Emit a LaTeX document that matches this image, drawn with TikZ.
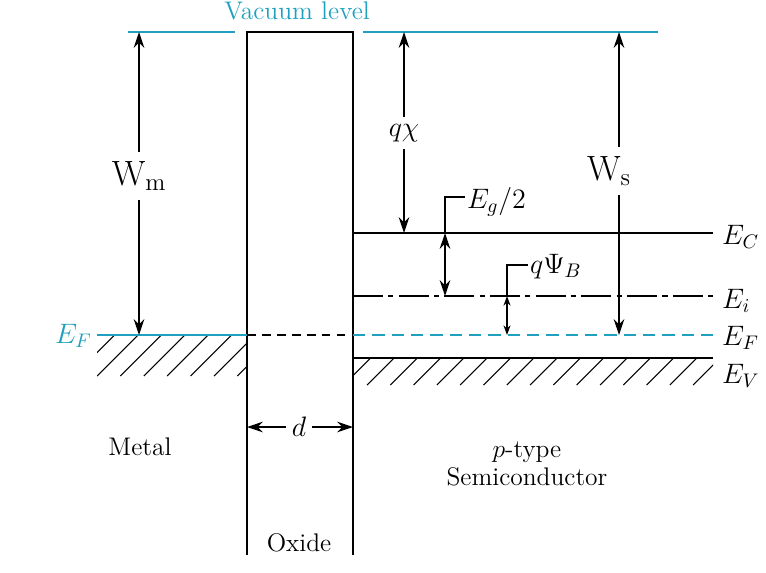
\documentclass[tikz,border=0pt]{standalone}
\usepackage{fix-cm}
\usepackage{tikz}
\usetikzlibrary{arrows.meta, positioning, calc}
\definecolor{vaccyan}{RGB}{30,160,190}

\begin{document}
\begin{tikzpicture}[x=0.02cm, y=-0.02cm,
    lvl/.style={line width=1.1pt},
    vac/.style={line width=1.1pt, vaccyan},
    hatch/.style={line width=0.6pt},
    gap/.style={-{Stealth[length=9pt,width=6pt]}, line width=0.8pt},
    dimarr/.style={{Stealth[length=9pt,width=6pt]}-{Stealth[length=9pt,width=6pt]}, line width=0.8pt},
    smallarr/.style={{Stealth[length=5.5pt,width=4pt]}-{Stealth[length=5.5pt,width=4pt]}, line width=0.7pt},
    txt/.style={font=\fontsize{14.5}{16}\selectfont},
    lbl/.style={font=\fontsize{16}{18}\selectfont, inner sep=1pt},
    wlbl/.style={font=\fontsize{20}{22}\selectfont, inner sep=5pt}
]
\useasboundingbox (0,0) rectangle (766,572);

% vacuum level
\coordinate (vacA) at (128,32);
\coordinate (vacB) at (235,32);
\coordinate (vacC) at (363,32);
\coordinate (vacD) at (658,32);
\draw[vac] (vacA) -- (vacB);
\draw[vac] (vacC) -- (vacD);
\node[txt, text=vaccyan] (vaclbl) at (297,11) {Vacuum level};

% oxide
\coordinate (oxTL) at (247,32);
\coordinate (oxTR) at (353,32);
\coordinate (oxBL) at (247,555);
\coordinate (oxBR) at (353,555);
\draw[lvl] (oxBL) -- (oxTL) -- (oxTR) -- (oxBR);

% metal
\coordinate (efM) at (97,335);
\coordinate (efMR) at (247,335);
\begin{scope}
  \clip (97,335) rectangle (247,376);
  \foreach \i in {-2,...,7}
    \draw[hatch] ({97+23.4*\i},376) -- ++(42,-42);
\end{scope}
\draw[vac] (efM) -- (efMR);
\draw[lvl, dashed, dash pattern=on 5pt off 3.5pt, line width=0.9pt] (efMR) -- (efMR -| oxTR);
\node[lbl, text=vaccyan, anchor=base west] (efMlbl) at (53,343) {$E_F$};

% semiconductor levels
\coordinate (ecL) at (353,233);
\coordinate (ecR) at (713,233);
\coordinate (eiL) at (353,296);
\coordinate (eiR) at (713,296);
\coordinate (efL) at (353,335);
\coordinate (efR) at (713,335);
\coordinate (evL) at (353,358);
\coordinate (evR) at (713,358);
\begin{scope}
  \clip (353,358) rectangle (713,385);
  \foreach \i in {-2,...,16}
    \draw[hatch] ({367+23.3*\i},385) -- ++(28,-28);
\end{scope}
\draw[lvl] (ecL) -- (ecR);
\draw[line width=0.9pt, dash pattern=on 17pt off 3pt on 3pt off 3pt] (eiL) -- (eiR);
\draw[line width=0.9pt, vaccyan, dash pattern=on 7pt off 4pt] (efL) -- (efR);
\draw[lvl] (evL) -- (evR);
\node[lbl, anchor=base west] (eclbl) at (720,244) {$E_C$};
\node[lbl, anchor=base west] (eilbl) at (720,308) {$E_i$};
\node[lbl, anchor=base west] (eflbl) at (720,345) {$E_F$};
\node[lbl, anchor=base west] (evlbl) at (720,383) {$E_V$};

% work functions and affinity
\node[wlbl] (Wm) at (139,176) {$\mathrm{W_m}$};
\draw[gap] (Wm) -- (Wm |- vacA);
\draw[gap] (Wm) -- (Wm |- efM);

\node[lbl, inner sep=4pt] (chi) at (404,133) {$q\chi$};
\draw[gap] (chi) -- (chi |- vacC);
\draw[gap] (chi) -- (chi |- ecL);

\coordinate (wsx) at (619,32);
\node[wlbl] (Ws) at (609,171) {$\mathrm{W_s}$};
\draw[gap] (Ws.north -| wsx) -- (wsx);
\draw[gap] (Ws.south -| wsx) -- (wsx |- efR);

% Eg/2 and q psi_B
\coordinate (egA) at (445,233);
\coordinate (egB) at (445,296);
\coordinate (egK) at (445,197);
\node[lbl, anchor=base west] (eglbl) at (465,208) {$E_g/2$};
\draw[dimarr] (egA) -- (egB);
\draw[line width=0.8pt] (egA) -- (egK) -- (egK -| eglbl.west);

\coordinate (psA) at (507,296);
\coordinate (psB) at (507,335);
\coordinate (psK) at (507,265);
\node[lbl, anchor=base west] (pslbl) at (528,273) {$q\Psi_B$};
\draw[smallarr] (psA) -- (psB);
\draw[line width=0.8pt] (psA) -- (psK) -- (psK -| pslbl.west);

% oxide thickness
\node[lbl, inner sep=3pt] (d) at (299,427) {$d$};
\draw[gap] (d) -- (d -| oxTL);
\draw[gap] (d) -- (d -| oxTR);

% region labels
\node[txt] (metal) at (140,447) {Metal};
\node[txt, align=center] (semi) at (527,464) {$p$-type\\Semiconductor};
\node[txt] (oxide) at (299,543) {Oxide};
\end{tikzpicture}
\end{document}
